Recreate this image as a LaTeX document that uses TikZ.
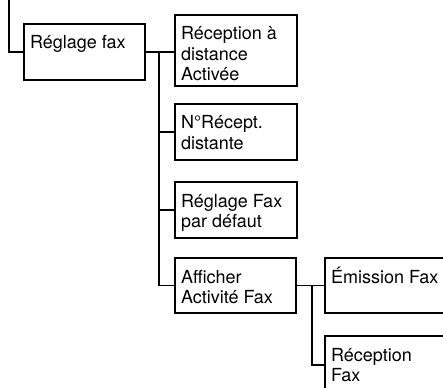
\documentclass[tikz,border=0pt]{standalone}
\usepackage{fontspec}
\setmainfont{TeX Gyre Heros}
\newcommand{\menucell}[3]{\parbox[t][\dimexpr#2pt-16pt\relax][t]{\dimexpr#1pt-12pt\relax}{\raggedright\rule{0pt}{17pt}#3}}
\begin{document}
\begin{tikzpicture}[x=1pt, y=-1pt, menu/.style={draw, line width=1.8pt, inner xsep=6pt, inner ysep=8pt, outer sep=0pt, anchor=north west, font=\fontsize{18}{20.5}\selectfont}, link/.style={line width=1.8pt}]
	\useasboundingbox (0,0) rectangle (443,387);
	\clip (0,0) rectangle (443,387);
	\node[menu] (rf) at (24,24) {\menucell{121}{56}{Réglage fax}};
	\node[menu] (r1) at (175,15) {\menucell{122}{71}{Réception à\\distance\\Activée}};
	\node[menu] (r2) at (175,104) {\menucell{122}{56}{N°Récept.\\distante}};
	\node[menu] (r3) at (175,182) {\menucell{122}{56}{Réglage Fax\\par défaut}};
	\node[menu] (r4) at (175,258) {\menucell{121}{55}{Afficher\\Activité Fax}};
	\node[menu] (r5) at (325,258) {\menucell{140}{55}{Émission Fax}};
	\node[menu] (r6) at (325,336) {\menucell{140}{58}{Réception\\Fax}};
	\coordinate (in) at (9,0);
	\coordinate (t1) at (159,0);
	\coordinate (t2) at (312,0);
	% entry and first level
	\draw[link] (in) |- (rf.west);
	\draw[link] (rf.east) -- (rf.east -| r1.west);
	\draw[link] (t1 |- rf.east) |- (r4.west);
	\foreach \n in {r2,r3} \draw[link] (t1 |- \n.west) -- (\n.west);
	% second level
	\draw[link] (r4.east) -- (r5.west);
	\draw[link] (t2 |- r4.east) |- (r6.west);
\end{tikzpicture}
\end{document}
